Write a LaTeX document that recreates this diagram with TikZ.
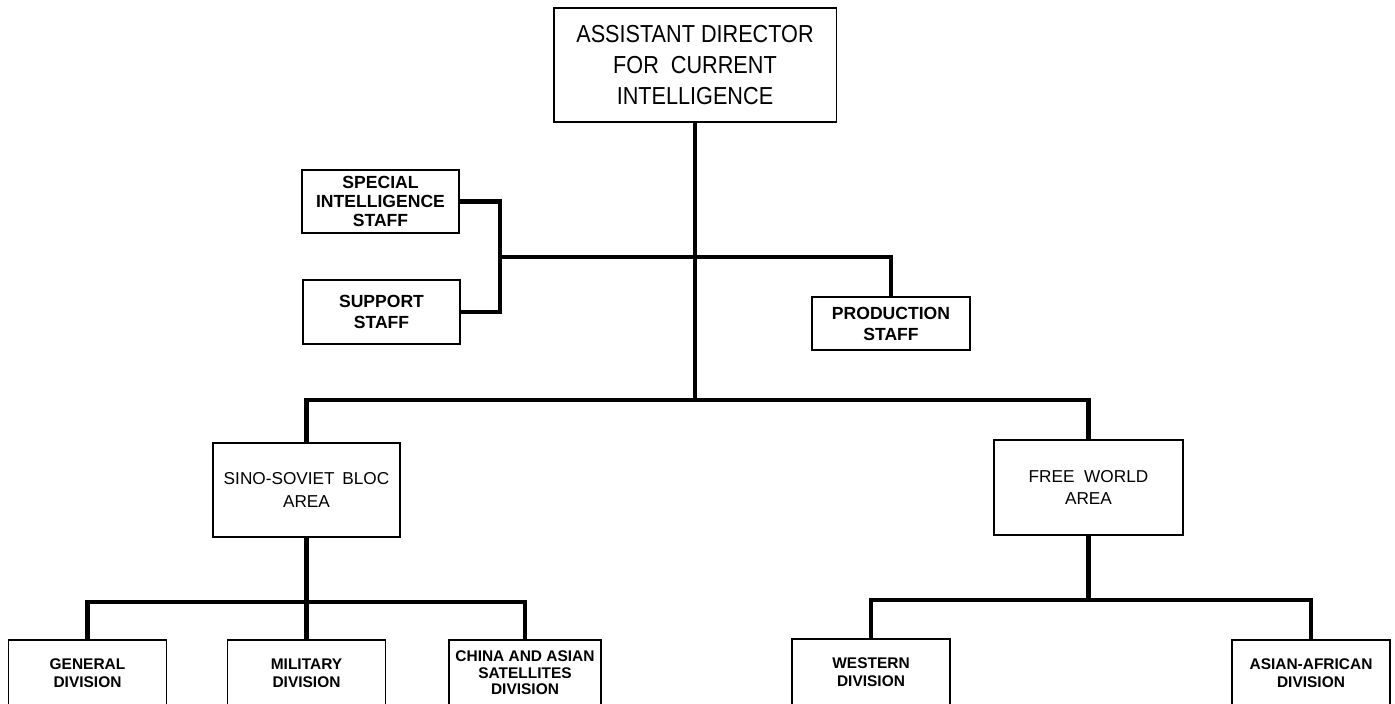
\documentclass[tikz,border=0pt]{standalone}
\usepackage{fontspec}
\setmainfont{Liberation Sans}
\newfontfamily\narrowfont{Liberation Sans}[FakeStretch=0.88]
\usepackage{tikz}
\usetikzlibrary{calc}
\tikzset{
  orgbox/.style={draw=black, line width=1.1pt, fill=white, align=center, inner sep=0pt},
  topbox/.style={orgbox, minimum width=5.66cm, minimum height=2.28cm, font=\narrowfont\fontsize{14}{17.5}\selectfont},
  staffbox/.style={orgbox, minimum width=3.14cm, font=\bfseries\fontsize{10}{11}\selectfont},
  areabox/.style={orgbox, minimum height=1.9cm, font=\fontsize{9.8}{13}\selectfont},
  divbox/.style={orgbox, minimum width=3.16cm, minimum height=1.32cm, font=\bfseries\fontsize{8.8}{9.4}\selectfont},
  link/.style={draw=black, line width=2.8pt},
}

\begin{document}
\begin{tikzpicture}[x=0.02cm, y=-0.02cm]
  \fill[white] (0,0) rectangle (1395,703);
  \clip (0,0) rectangle (1395,703);
  \useasboundingbox (0,0) rectangle (1395,703);

  % junctions
  \coordinate (hub) at (695,400);
  \coordinate (brk) at (500,257);
  \coordinate (ssbar) at (306.5,602);
  \coordinate (fwbar) at (1088.5,600);

  % boxes
  \path (695,65) node[topbox] (top) {ASSISTANT DIRECTOR\\FOR\ \ CURRENT\\INTELLIGENCE};
  \path (380.5,201.5) node[staffbox, minimum height=1.26cm] (sis) {SPECIAL\\INTELLIGENCE\\STAFF};
  \path (381.5,312) node[staffbox, minimum height=1.28cm] (sup) {SUPPORT\\[1pt]STAFF};
  \path (891,323.5) node[staffbox, minimum width=3.16cm, minimum height=1.06cm] (prod) {PRODUCTION\\[1pt]STAFF};
  \path (306.5,490) node[areabox, minimum width=3.74cm, minimum height=1.88cm] (ss) {SINO-SOVIET\ \,BLOC\\AREA};
  \path (1088.5,487.5) node[areabox, minimum width=3.78cm] (fw) {FREE\ \ WORLD\\AREA};
  \path (87.5,673) node[divbox] (gen) {GENERAL\\[1pt]DIVISION};
  \path (306.5,673) node[divbox] (mil) {MILITARY\\[1pt]DIVISION};
  \path (525,673) node[divbox, minimum width=3.04cm] (chn) {CHINA AND ASIAN\\SATELLITES\\DIVISION};
  \path (871,672) node[divbox] (wes) {WESTERN\\[1pt]DIVISION};
  \path (1311,673) node[divbox] (asf) {ASIAN-AFRICAN\\[1pt]DIVISION};

  % connectors
  \draw[link] (top.south) -- (hub);
  \draw[link] (sis.east) -| (brk) |- (sup.east);
  \draw[link] (brk) -| (prod.north);
  \draw[link] (ss.north) |- (hub) -| (fw.north);
  \draw[link] (ss.south) -- (mil.north);
  \draw[link] (gen.north) |- (ssbar) -| (chn.north);
  \draw[link] (fw.south) -- (fwbar);
  \draw[link] (wes.north) |- (fwbar) -| (asf.north);
\end{tikzpicture}
\end{document}
